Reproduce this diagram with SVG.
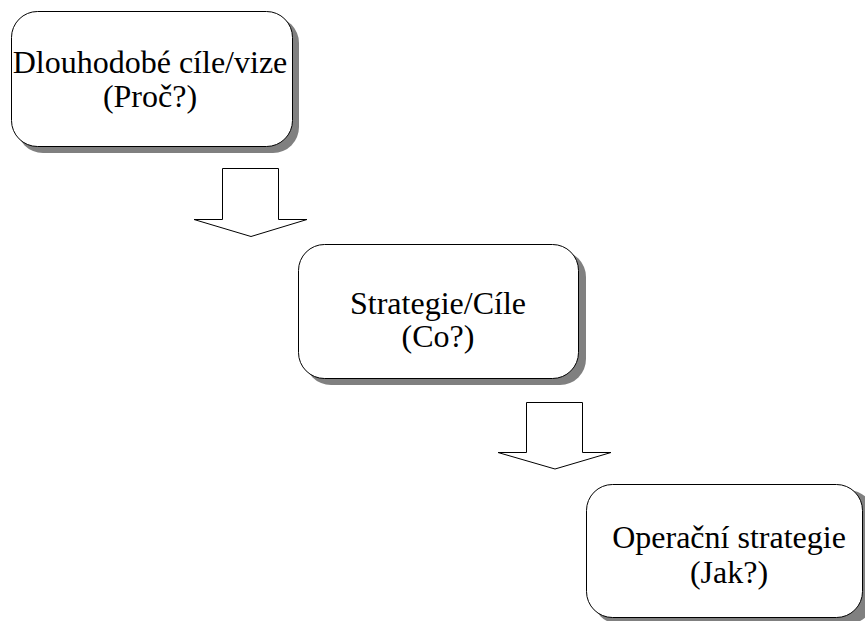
<svg xmlns="http://www.w3.org/2000/svg" width="865" height="621" viewBox="0 0 865 621">
<style>
.shadow{fill:#808080;stroke:none}
.box{fill:#ffffff;stroke:#000000;stroke-width:1}
.arrow{fill:#ffffff;stroke:#000000;stroke-width:1;stroke-linejoin:miter}
text{font-family:"Liberation Serif","Times New Roman",serif;font-size:32px;fill:#000000;text-anchor:middle}
</style>
<rect width="865" height="621" fill="#ffffff"/>
<g id="node-vize">
<rect class="shadow" x="17" y="17" width="282" height="136" rx="26" ry="26"/>
<rect class="box" x="11.5" y="11.5" width="281" height="135" rx="26" ry="26"/>
<text x="150" y="73">Dlouhodobé cíle/vize</text>
<text x="150" y="107">(Proč?)</text>
</g>
<g id="node-strategie">
<rect class="shadow" x="305" y="251" width="281" height="134" rx="26" ry="26"/>
<rect class="box" x="298.5" y="244.5" width="280" height="134" rx="26" ry="26"/>
<text x="438" y="314">Strategie/Cíle</text>
<text x="438" y="347">(Co?)</text>
</g>
<g id="node-operacni">
<rect class="shadow" x="593" y="490" width="281" height="134" rx="26" ry="26"/>
<rect class="box" x="586.5" y="484.5" width="276" height="133" rx="26" ry="26"/>
<text x="729" y="548">Operační strategie</text>
<text x="729" y="583">(Jak?)</text>
</g>
<g id="connectors">
<polygon class="arrow" points="222.5,168.5 278.5,168.5 278.5,219.5 307,219.5 251,236.5 194,219.5 222.5,219.5"/>
<polygon class="arrow" points="526.5,402.5 582.5,402.5 582.5,452.5 611,452.5 555,469 498,452.5 526.5,452.5"/>
</g>
</svg>
